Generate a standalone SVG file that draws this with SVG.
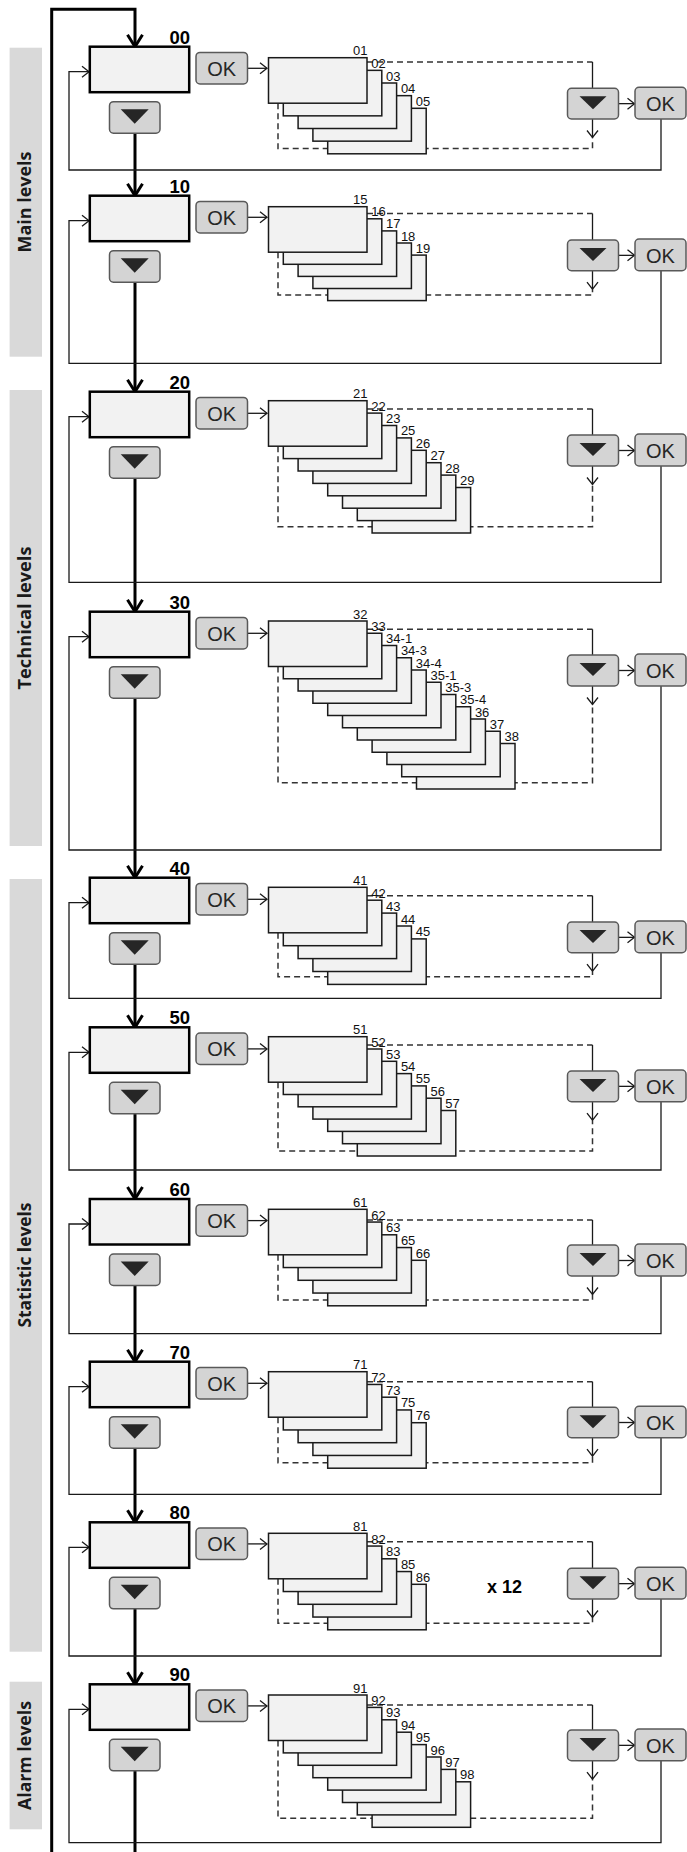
<svg xmlns="http://www.w3.org/2000/svg" width="687" height="1852" viewBox="0 0 687 1852">
<style>
.bg{fill:#fff}
.side{fill:#d9d9d9}
.sidet{font-family:"Open Sans","Liberation Sans",sans-serif;font-weight:700;font-size:17.5px;text-anchor:middle;fill:#1a1a1a}
.box{fill:#f2f2f2;stroke:#000;stroke-width:2.5}
.card{fill:#f2f2f2;stroke:#1a1a1a;stroke-width:1.5}
.btn{fill:#d4d4d4;stroke:#595959;stroke-width:1.5}
.tri{fill:#262626}
.ok{font-family:"Liberation Sans",Arial,sans-serif;font-size:20px;fill:#262626;text-anchor:middle;transform:translateY(0.6px)}
.lvl{font-family:"Liberation Sans",Arial,sans-serif;font-weight:700;font-size:18.5px;text-anchor:end;fill:#000}
.num{font-family:"Liberation Sans",Arial,sans-serif;font-size:13px;fill:#111}
.x12{font-family:"Liberation Sans",Arial,sans-serif;font-weight:700;font-size:18px;text-anchor:middle;fill:#000}
.thick{stroke:#000;stroke-width:3;fill:none}
.thin{stroke:#1a1a1a;stroke-width:1.3;fill:none}
.dash{stroke:#333;stroke-width:1.5;stroke-dasharray:6 4;fill:none}
</style>
<defs>
<marker id="ah" viewBox="-14 -9 16 18" refX="0" refY="0" markerWidth="16" markerHeight="18" markerUnits="userSpaceOnUse" orient="auto" overflow="visible"><path d="M-12,-7.5 L0,0 L-12,7.5" fill="none" stroke="#000" stroke-width="3"/></marker>
<marker id="at" viewBox="-9 -7 10 14" refX="0" refY="0" markerWidth="10" markerHeight="14" markerUnits="userSpaceOnUse" orient="auto" overflow="visible"><path d="M-7,-5.5 L0,0 L-7,5.5" fill="none" stroke="#1a1a1a" stroke-width="1.3"/></marker>
</defs>
<rect class="bg" x="0" y="0" width="687" height="1852"/>

<g id="sidebars">
<rect class="side" x="9.6" y="47.7" width="32.4" height="309"/>
<text class="sidet" transform="translate(30.5,202) rotate(-90)" textLength="101" lengthAdjust="spacingAndGlyphs">Main levels</text>
<rect class="side" x="9.6" y="390" width="32.4" height="456"/>
<text class="sidet" transform="translate(30.5,618) rotate(-90)" textLength="143" lengthAdjust="spacingAndGlyphs">Technical levels</text>
<rect class="side" x="9.6" y="879" width="32.4" height="772.7"/>
<text class="sidet" transform="translate(30.5,1265) rotate(-90)" textLength="125" lengthAdjust="spacingAndGlyphs">Statistic levels</text>
<rect class="side" x="9.6" y="1681.7" width="32.4" height="147.6"/>
<text class="sidet" transform="translate(30.5,1755.5) rotate(-90)" textLength="109" lengthAdjust="spacingAndGlyphs">Alarm levels</text>
</g>

<g id="connectors">
<path class="thick" d="M51.7,1852 V9.3 H135 V46.7" marker-end="url(#ah)"/>
<path class="thick" d="M135,133.2 V195.7" marker-end="url(#ah)"/>
<path class="thick" d="M135,282.2 V391.7" marker-end="url(#ah)"/>
<path class="thick" d="M135,478.2 V611.7" marker-end="url(#ah)"/>
<path class="thick" d="M135,698.2 V877.7" marker-end="url(#ah)"/>
<path class="thick" d="M135,964.2 V1027.3" marker-end="url(#ah)"/>
<path class="thick" d="M135,1113.8 V1199" marker-end="url(#ah)"/>
<path class="thick" d="M135,1285.5 V1361.7" marker-end="url(#ah)"/>
<path class="thick" d="M135,1448.2 V1522.3" marker-end="url(#ah)"/>
<path class="thick" d="M135,1608.8 V1684.3" marker-end="url(#ah)"/>
<path class="thick" d="M135,1770.8 V1852"/>

<!-- S00 -->
<path class="thin" d="M248,68.3 H267" marker-end="url(#at)"/>
<path class="dash" d="M367,62 H592.5"/>
<path class="dash" d="M278,103.2 V148.5 H592.5 V137.5"/>
<path class="thin" d="M592.5,62 V88.3"/>
<path class="thin" d="M592.5,119 V137.5" marker-end="url(#at)"/>
<path class="thin" d="M619,103.65 H634.5" marker-end="url(#at)"/>
<path class="thin" d="M661,119 V170 H69 V71.7 H89" marker-end="url(#at)"/>
<!-- S10 -->
<path class="thin" d="M248,217.3 H267" marker-end="url(#at)"/>
<path class="dash" d="M367,213.5 H592.5"/>
<path class="dash" d="M278,252.2 V295 H592.5 V289.2"/>
<path class="thin" d="M592.5,213.5 V240"/>
<path class="thin" d="M592.5,270.7 V289.2" marker-end="url(#at)"/>
<path class="thin" d="M619,255.35 H634.5" marker-end="url(#at)"/>
<path class="thin" d="M661,270.7 V363.3 H69 V220.7 H89" marker-end="url(#at)"/>
<!-- S20 -->
<path class="thin" d="M248,413.3 H267" marker-end="url(#at)"/>
<path class="dash" d="M367,409 H592.5"/>
<path class="dash" d="M278,446.2 V526.7 H592.5 V484.5"/>
<path class="thin" d="M592.5,409 V435"/>
<path class="thin" d="M592.5,466 V484.5" marker-end="url(#at)"/>
<path class="thin" d="M619,450.5 H634.5" marker-end="url(#at)"/>
<path class="thin" d="M661,466 V582.3 H69 V416.7 H89" marker-end="url(#at)"/>
<!-- S30 -->
<path class="thin" d="M248,633.3 H267" marker-end="url(#at)"/>
<path class="dash" d="M367,629.3 H592.5"/>
<path class="dash" d="M278,666.5 V782.7 H592.5 V704.5"/>
<path class="thin" d="M592.5,629.3 V655"/>
<path class="thin" d="M592.5,686 V704.5" marker-end="url(#at)"/>
<path class="thin" d="M619,670.5 H634.5" marker-end="url(#at)"/>
<path class="thin" d="M661,686 V850 H69 V636.7 H89" marker-end="url(#at)"/>
<!-- S40 -->
<path class="thin" d="M248,899.3 H267" marker-end="url(#at)"/>
<path class="dash" d="M367,895.7 H592.5"/>
<path class="dash" d="M278,932.8 V976.7 H592.5 V971.2"/>
<path class="thin" d="M592.5,895.7 V922"/>
<path class="thin" d="M592.5,952.7 V971.2" marker-end="url(#at)"/>
<path class="thin" d="M619,937.35 H634.5" marker-end="url(#at)"/>
<path class="thin" d="M661,952.7 V998.3 H69 V902.7 H89" marker-end="url(#at)"/>
<!-- S50 -->
<path class="thin" d="M248,1048.9 H267" marker-end="url(#at)"/>
<path class="dash" d="M367,1045 H592.5"/>
<path class="dash" d="M278,1082.2 V1151 H592.5 V1120.2"/>
<path class="thin" d="M592.5,1045 V1071"/>
<path class="thin" d="M592.5,1101.7 V1120.2" marker-end="url(#at)"/>
<path class="thin" d="M619,1086.35 H634.5" marker-end="url(#at)"/>
<path class="thin" d="M661,1101.7 V1170 H69 V1052.3 H89" marker-end="url(#at)"/>
<!-- S60 -->
<path class="thin" d="M248,1220.6 H267" marker-end="url(#at)"/>
<path class="dash" d="M367,1220 H592.5"/>
<path class="dash" d="M278,1254.8 V1300 H592.5 V1294.5"/>
<path class="thin" d="M592.5,1220 V1245"/>
<path class="thin" d="M592.5,1276 V1294.5" marker-end="url(#at)"/>
<path class="thin" d="M619,1260.5 H634.5" marker-end="url(#at)"/>
<path class="thin" d="M661,1276 V1333.7 H69 V1224 H89" marker-end="url(#at)"/>
<!-- S70 -->
<path class="thin" d="M248,1383.3 H267" marker-end="url(#at)"/>
<path class="dash" d="M367,1381.7 H592.5"/>
<path class="dash" d="M278,1417.2 V1462.7 H592.5 V1456.2"/>
<path class="thin" d="M592.5,1381.7 V1407.3"/>
<path class="thin" d="M592.5,1437.7 V1456.2" marker-end="url(#at)"/>
<path class="thin" d="M619,1422.5 H634.5" marker-end="url(#at)"/>
<path class="thin" d="M661,1437.7 V1494.3 H69 V1386.7 H89" marker-end="url(#at)"/>
<!-- S80 -->
<path class="thin" d="M248,1543.9 H267" marker-end="url(#at)"/>
<path class="dash" d="M367,1541.7 H592.5"/>
<path class="dash" d="M278,1578.8 V1623.3 H592.5 V1617.5"/>
<path class="thin" d="M592.5,1541.7 V1568.3"/>
<path class="thin" d="M592.5,1599 V1617.5" marker-end="url(#at)"/>
<path class="thin" d="M619,1583.65 H634.5" marker-end="url(#at)"/>
<path class="thin" d="M661,1599 V1656 H69 V1547.3 H89" marker-end="url(#at)"/>
<!-- S90 -->
<path class="thin" d="M248,1705.9 H267" marker-end="url(#at)"/>
<path class="dash" d="M367,1705 H592.5"/>
<path class="dash" d="M278,1740.5 V1818.3 H592.5 V1779.2"/>
<path class="thin" d="M592.5,1705 V1730"/>
<path class="thin" d="M592.5,1760.7 V1779.2" marker-end="url(#at)"/>
<path class="thin" d="M619,1745.35 H634.5" marker-end="url(#at)"/>
<path class="thin" d="M661,1760.7 V1842.7 H69 V1709.3 H89" marker-end="url(#at)"/>
</g>

<!-- ===== Section 00 ===== -->
<g id="s00">
<g id="box00"><rect class="box" x="89.8" y="46.7" width="99.4" height="45.5"/><text class="lvl" x="190" y="43.7">00</text></g>
<g id="ok00"><rect class="btn" x="196" y="52.4" width="51.5" height="31.5" rx="4"/><text class="ok" x="221.7" y="75">OK</text></g>
<g id="dn00"><rect class="btn" x="109.5" y="101.7" width="50.5" height="31.5" rx="4"/><polygon class="tri" points="120.7,109.2 148.7,109.2 134.7,123.7"/></g>
<g id="cards00">
<rect class="card" x="327.7" y="108.3" width="98.5" height="45.5"/>
<rect class="card" x="312.9" y="95.65" width="98.5" height="45.5"/>
<rect class="card" x="298.1" y="83" width="98.5" height="45.5"/>
<rect class="card" x="283.3" y="70.35" width="98.5" height="45.5"/>
<rect class="card" x="268.5" y="57.7" width="98.5" height="45.5"/>
<text class="num" x="353" y="55.2">01</text>
<text class="num" x="371.3" y="67.9">02</text>
<text class="num" x="386.1" y="80.5">03</text>
<text class="num" x="400.9" y="93.2">04</text>
<text class="num" x="415.7" y="105.8">05</text>
</g>
<g id="rdn00"><rect class="btn" x="567.5" y="88.3" width="51" height="30.7" rx="4"/><polygon class="tri" points="579.5,96.3 606.5,96.3 593,109.3"/></g>
<g id="rok00"><rect class="btn" x="635" y="87.3" width="51" height="31.7" rx="4"/><text class="ok" x="660.5" y="110.5">OK</text></g>
</g>

<!-- ===== Section 10 ===== -->
<g id="s10">
<g id="box10"><rect class="box" x="89.8" y="195.7" width="99.4" height="45.5"/><text class="lvl" x="190" y="192.7">10</text></g>
<g id="ok10"><rect class="btn" x="196" y="201.4" width="51.5" height="31.5" rx="4"/><text class="ok" x="221.7" y="224">OK</text></g>
<g id="dn10"><rect class="btn" x="109.5" y="250.7" width="50.5" height="31.5" rx="4"/><polygon class="tri" points="120.7,258.2 148.7,258.2 134.7,272.7"/></g>
<g id="cards10">
<rect class="card" x="327.7" y="255.1" width="98.5" height="45.5"/>
<rect class="card" x="312.9" y="243" width="98.5" height="45.5"/>
<rect class="card" x="298.1" y="230.9" width="98.5" height="45.5"/>
<rect class="card" x="283.3" y="218.8" width="98.5" height="45.5"/>
<rect class="card" x="268.5" y="206.7" width="98.5" height="45.5"/>
<text class="num" x="353" y="204.2">15</text>
<text class="num" x="371.3" y="216.3">16</text>
<text class="num" x="386.1" y="228.4">17</text>
<text class="num" x="400.9" y="240.5">18</text>
<text class="num" x="415.7" y="252.6">19</text>
</g>
<g id="rdn10"><rect class="btn" x="567.5" y="240" width="51" height="30.7" rx="4"/><polygon class="tri" points="579.5,248 606.5,248 593,261"/></g>
<g id="rok10"><rect class="btn" x="635" y="239" width="51" height="31.7" rx="4"/><text class="ok" x="660.5" y="262.2">OK</text></g>
</g>

<!-- ===== Section 20 ===== -->
<g id="s20">
<g id="box20"><rect class="box" x="89.8" y="391.7" width="99.4" height="45.5"/><text class="lvl" x="190" y="388.7">20</text></g>
<g id="ok20"><rect class="btn" x="196" y="397.4" width="51.5" height="31.5" rx="4"/><text class="ok" x="221.7" y="420">OK</text></g>
<g id="dn20"><rect class="btn" x="109.5" y="446.7" width="50.5" height="31.5" rx="4"/><polygon class="tri" points="120.7,454.2 148.7,454.2 134.7,468.7"/></g>
<g id="cards20">
<rect class="card" x="372.1" y="487.5" width="98.5" height="45.5"/>
<rect class="card" x="357.3" y="475.1" width="98.5" height="45.5"/>
<rect class="card" x="342.5" y="462.7" width="98.5" height="45.5"/>
<rect class="card" x="327.7" y="450.3" width="98.5" height="45.5"/>
<rect class="card" x="312.9" y="437.9" width="98.5" height="45.5"/>
<rect class="card" x="298.1" y="425.5" width="98.5" height="45.5"/>
<rect class="card" x="283.3" y="413.1" width="98.5" height="45.5"/>
<rect class="card" x="268.5" y="400.7" width="98.5" height="45.5"/>
<text class="num" x="353" y="398.2">21</text>
<text class="num" x="371.3" y="410.6">22</text>
<text class="num" x="386.1" y="423">23</text>
<text class="num" x="400.9" y="435.4">25</text>
<text class="num" x="415.7" y="447.8">26</text>
<text class="num" x="430.5" y="460.2">27</text>
<text class="num" x="445.3" y="472.6">28</text>
<text class="num" x="460.1" y="485">29</text>
</g>
<g id="rdn20"><rect class="btn" x="567.5" y="435" width="51" height="31" rx="4"/><polygon class="tri" points="579.5,443 606.5,443 593,456"/></g>
<g id="rok20"><rect class="btn" x="635" y="434" width="51" height="32" rx="4"/><text class="ok" x="660.5" y="457.3">OK</text></g>
</g>

<!-- ===== Section 30 ===== -->
<g id="s30">
<g id="box30"><rect class="box" x="89.8" y="611.7" width="99.4" height="45.5"/><text class="lvl" x="190" y="608.7">30</text></g>
<g id="ok30"><rect class="btn" x="196" y="617.4" width="51.5" height="31.5" rx="4"/><text class="ok" x="221.7" y="640">OK</text></g>
<g id="dn30"><rect class="btn" x="109.5" y="666.7" width="50.5" height="31.5" rx="4"/><polygon class="tri" points="120.7,674.2 148.7,674.2 134.7,688.7"/></g>
<g id="cards30">
<rect class="card" x="416.5" y="743.5" width="98.5" height="45.5"/>
<rect class="card" x="401.7" y="731.25" width="98.5" height="45.5"/>
<rect class="card" x="386.9" y="719" width="98.5" height="45.5"/>
<rect class="card" x="372.1" y="706.75" width="98.5" height="45.5"/>
<rect class="card" x="357.3" y="694.5" width="98.5" height="45.5"/>
<rect class="card" x="342.5" y="682.25" width="98.5" height="45.5"/>
<rect class="card" x="327.7" y="670" width="98.5" height="45.5"/>
<rect class="card" x="312.9" y="657.75" width="98.5" height="45.5"/>
<rect class="card" x="298.1" y="645.5" width="98.5" height="45.5"/>
<rect class="card" x="283.3" y="633.25" width="98.5" height="45.5"/>
<rect class="card" x="268.5" y="621" width="98.5" height="45.5"/>
<text class="num" x="353" y="618.5">32</text>
<text class="num" x="371.3" y="630.75">33</text>
<text class="num" x="386.1" y="643">34-1</text>
<text class="num" x="400.9" y="655.25">34-3</text>
<text class="num" x="415.7" y="667.5">34-4</text>
<text class="num" x="430.5" y="679.75">35-1</text>
<text class="num" x="445.3" y="692">35-3</text>
<text class="num" x="460.1" y="704.25">35-4</text>
<text class="num" x="474.9" y="716.5">36</text>
<text class="num" x="489.7" y="728.75">37</text>
<text class="num" x="504.5" y="741">38</text>
</g>
<g id="rdn30"><rect class="btn" x="567.5" y="655" width="51" height="31" rx="4"/><polygon class="tri" points="579.5,663 606.5,663 593,676"/></g>
<g id="rok30"><rect class="btn" x="635" y="654" width="51" height="32" rx="4"/><text class="ok" x="660.5" y="677.3">OK</text></g>
</g>

<!-- ===== Section 40 ===== -->
<g id="s40">
<g id="box40"><rect class="box" x="89.8" y="877.7" width="99.4" height="45.5"/><text class="lvl" x="190" y="874.7">40</text></g>
<g id="ok40"><rect class="btn" x="196" y="883.4" width="51.5" height="31.5" rx="4"/><text class="ok" x="221.7" y="906">OK</text></g>
<g id="dn40"><rect class="btn" x="109.5" y="932.7" width="50.5" height="31.5" rx="4"/><polygon class="tri" points="120.7,940.2 148.7,940.2 134.7,954.7"/></g>
<g id="cards40">
<rect class="card" x="327.7" y="938.9" width="98.5" height="45.5"/>
<rect class="card" x="312.9" y="926" width="98.5" height="45.5"/>
<rect class="card" x="298.1" y="913.1" width="98.5" height="45.5"/>
<rect class="card" x="283.3" y="900.2" width="98.5" height="45.5"/>
<rect class="card" x="268.5" y="887.3" width="98.5" height="45.5"/>
<text class="num" x="353" y="884.8">41</text>
<text class="num" x="371.3" y="897.7">42</text>
<text class="num" x="386.1" y="910.6">43</text>
<text class="num" x="400.9" y="923.5">44</text>
<text class="num" x="415.7" y="936.4">45</text>
</g>
<g id="rdn40"><rect class="btn" x="567.5" y="922" width="51" height="30.7" rx="4"/><polygon class="tri" points="579.5,930 606.5,930 593,943"/></g>
<g id="rok40"><rect class="btn" x="635" y="921" width="51" height="31.7" rx="4"/><text class="ok" x="660.5" y="944.2">OK</text></g>
</g>

<!-- ===== Section 50 ===== -->
<g id="s50">
<g id="box50"><rect class="box" x="89.8" y="1027.3" width="99.4" height="45.5"/><text class="lvl" x="190" y="1024.3">50</text></g>
<g id="ok50"><rect class="btn" x="196" y="1033" width="51.5" height="31.5" rx="4"/><text class="ok" x="221.7" y="1055.6">OK</text></g>
<g id="dn50"><rect class="btn" x="109.5" y="1082.3" width="50.5" height="31.5" rx="4"/><polygon class="tri" points="120.7,1089.8 148.7,1089.8 134.7,1104.3"/></g>
<g id="cards50">
<rect class="card" x="357.3" y="1110.5" width="98.5" height="45.5"/>
<rect class="card" x="342.5" y="1098.2" width="98.5" height="45.5"/>
<rect class="card" x="327.7" y="1085.9" width="98.5" height="45.5"/>
<rect class="card" x="312.9" y="1073.6" width="98.5" height="45.5"/>
<rect class="card" x="298.1" y="1061.3" width="98.5" height="45.5"/>
<rect class="card" x="283.3" y="1049" width="98.5" height="45.5"/>
<rect class="card" x="268.5" y="1036.7" width="98.5" height="45.5"/>
<text class="num" x="353" y="1034.2">51</text>
<text class="num" x="371.3" y="1046.5">52</text>
<text class="num" x="386.1" y="1058.8">53</text>
<text class="num" x="400.9" y="1071.1">54</text>
<text class="num" x="415.7" y="1083.4">55</text>
<text class="num" x="430.5" y="1095.7">56</text>
<text class="num" x="445.3" y="1108">57</text>
</g>
<g id="rdn50"><rect class="btn" x="567.5" y="1071" width="51" height="30.7" rx="4"/><polygon class="tri" points="579.5,1079 606.5,1079 593,1092"/></g>
<g id="rok50"><rect class="btn" x="635" y="1070" width="51" height="31.7" rx="4"/><text class="ok" x="660.5" y="1093.2">OK</text></g>
</g>

<!-- ===== Section 60 ===== -->
<g id="s60">
<g id="box60"><rect class="box" x="89.8" y="1199" width="99.4" height="45.5"/><text class="lvl" x="190" y="1196">60</text></g>
<g id="ok60"><rect class="btn" x="196" y="1204.7" width="51.5" height="31.5" rx="4"/><text class="ok" x="221.7" y="1227.3">OK</text></g>
<g id="dn60"><rect class="btn" x="109.5" y="1254" width="50.5" height="31.5" rx="4"/><polygon class="tri" points="120.7,1261.5 148.7,1261.5 134.7,1276"/></g>
<g id="cards60">
<rect class="card" x="327.7" y="1260.3" width="98.5" height="45.5"/>
<rect class="card" x="312.9" y="1247.55" width="98.5" height="45.5"/>
<rect class="card" x="298.1" y="1234.8" width="98.5" height="45.5"/>
<rect class="card" x="283.3" y="1222.05" width="98.5" height="45.5"/>
<rect class="card" x="268.5" y="1209.3" width="98.5" height="45.5"/>
<text class="num" x="353" y="1206.8">61</text>
<text class="num" x="371.3" y="1219.55">62</text>
<text class="num" x="386.1" y="1232.3">63</text>
<text class="num" x="400.9" y="1245.05">65</text>
<text class="num" x="415.7" y="1257.8">66</text>
</g>
<g id="rdn60"><rect class="btn" x="567.5" y="1245" width="51" height="31" rx="4"/><polygon class="tri" points="579.5,1253 606.5,1253 593,1266"/></g>
<g id="rok60"><rect class="btn" x="635" y="1244" width="51" height="32" rx="4"/><text class="ok" x="660.5" y="1267.3">OK</text></g>
</g>

<!-- ===== Section 70 ===== -->
<g id="s70">
<g id="box70"><rect class="box" x="89.8" y="1361.7" width="99.4" height="45.5"/><text class="lvl" x="190" y="1358.7">70</text></g>
<g id="ok70"><rect class="btn" x="196" y="1367.4" width="51.5" height="31.5" rx="4"/><text class="ok" x="221.7" y="1390">OK</text></g>
<g id="dn70"><rect class="btn" x="109.5" y="1416.7" width="50.5" height="31.5" rx="4"/><polygon class="tri" points="120.7,1424.2 148.7,1424.2 134.7,1438.7"/></g>
<g id="cards70">
<rect class="card" x="327.7" y="1422.7" width="98.5" height="45.5"/>
<rect class="card" x="312.9" y="1409.95" width="98.5" height="45.5"/>
<rect class="card" x="298.1" y="1397.2" width="98.5" height="45.5"/>
<rect class="card" x="283.3" y="1384.45" width="98.5" height="45.5"/>
<rect class="card" x="268.5" y="1371.7" width="98.5" height="45.5"/>
<text class="num" x="353" y="1369.2">71</text>
<text class="num" x="371.3" y="1381.95">72</text>
<text class="num" x="386.1" y="1394.7">73</text>
<text class="num" x="400.9" y="1407.45">75</text>
<text class="num" x="415.7" y="1420.2">76</text>
</g>
<g id="rdn70"><rect class="btn" x="567.5" y="1407.3" width="51" height="30.4" rx="4"/><polygon class="tri" points="579.5,1415.3 606.5,1415.3 593,1428.3"/></g>
<g id="rok70"><rect class="btn" x="635" y="1406.3" width="51" height="31.4" rx="4"/><text class="ok" x="660.5" y="1429.3">OK</text></g>
</g>

<!-- ===== Section 80 ===== -->
<g id="s80">
<g id="box80"><rect class="box" x="89.8" y="1522.3" width="99.4" height="45.5"/><text class="lvl" x="190" y="1519.3">80</text></g>
<g id="ok80"><rect class="btn" x="196" y="1528" width="51.5" height="31.5" rx="4"/><text class="ok" x="221.7" y="1550.6">OK</text></g>
<g id="dn80"><rect class="btn" x="109.5" y="1577.3" width="50.5" height="31.5" rx="4"/><polygon class="tri" points="120.7,1584.8 148.7,1584.8 134.7,1599.3"/></g>
<g id="cards80">
<rect class="card" x="327.7" y="1584.3" width="98.5" height="45.5"/>
<rect class="card" x="312.9" y="1571.55" width="98.5" height="45.5"/>
<rect class="card" x="298.1" y="1558.8" width="98.5" height="45.5"/>
<rect class="card" x="283.3" y="1546.05" width="98.5" height="45.5"/>
<rect class="card" x="268.5" y="1533.3" width="98.5" height="45.5"/>
<text class="num" x="353" y="1530.8">81</text>
<text class="num" x="371.3" y="1543.55">82</text>
<text class="num" x="386.1" y="1556.3">83</text>
<text class="num" x="400.9" y="1569.05">85</text>
<text class="num" x="415.7" y="1581.8">86</text>
</g>
<text class="x12" x="504.5" y="1592.7">x 12</text>
<g id="rdn80"><rect class="btn" x="567.5" y="1568.3" width="51" height="30.7" rx="4"/><polygon class="tri" points="579.5,1576.3 606.5,1576.3 593,1589.3"/></g>
<g id="rok80"><rect class="btn" x="635" y="1567.3" width="51" height="31.7" rx="4"/><text class="ok" x="660.5" y="1590.5">OK</text></g>
</g>

<!-- ===== Section 90 ===== -->
<g id="s90">
<g id="box90"><rect class="box" x="89.8" y="1684.3" width="99.4" height="45.5"/><text class="lvl" x="190" y="1681.3">90</text></g>
<g id="ok90"><rect class="btn" x="196" y="1690" width="51.5" height="31.5" rx="4"/><text class="ok" x="221.7" y="1712.6">OK</text></g>
<g id="dn90"><rect class="btn" x="109.5" y="1739.3" width="50.5" height="31.5" rx="4"/><polygon class="tri" points="120.7,1746.8 148.7,1746.8 134.7,1761.3"/></g>
<g id="cards90">
<rect class="card" x="372.1" y="1781.8" width="98.5" height="45.5"/>
<rect class="card" x="357.3" y="1769.4" width="98.5" height="45.5"/>
<rect class="card" x="342.5" y="1757" width="98.5" height="45.5"/>
<rect class="card" x="327.7" y="1744.6" width="98.5" height="45.5"/>
<rect class="card" x="312.9" y="1732.2" width="98.5" height="45.5"/>
<rect class="card" x="298.1" y="1719.8" width="98.5" height="45.5"/>
<rect class="card" x="283.3" y="1707.4" width="98.5" height="45.5"/>
<rect class="card" x="268.5" y="1695" width="98.5" height="45.5"/>
<text class="num" x="353" y="1692.5">91</text>
<text class="num" x="371.3" y="1704.9">92</text>
<text class="num" x="386.1" y="1717.3">93</text>
<text class="num" x="400.9" y="1729.7">94</text>
<text class="num" x="415.7" y="1742.1">95</text>
<text class="num" x="430.5" y="1754.5">96</text>
<text class="num" x="445.3" y="1766.9">97</text>
<text class="num" x="460.1" y="1779.3">98</text>
</g>
<g id="rdn90"><rect class="btn" x="567.5" y="1730" width="51" height="30.7" rx="4"/><polygon class="tri" points="579.5,1738 606.5,1738 593,1751"/></g>
<g id="rok90"><rect class="btn" x="635" y="1729" width="51" height="31.7" rx="4"/><text class="ok" x="660.5" y="1752.2">OK</text></g>
</g>
</svg>
